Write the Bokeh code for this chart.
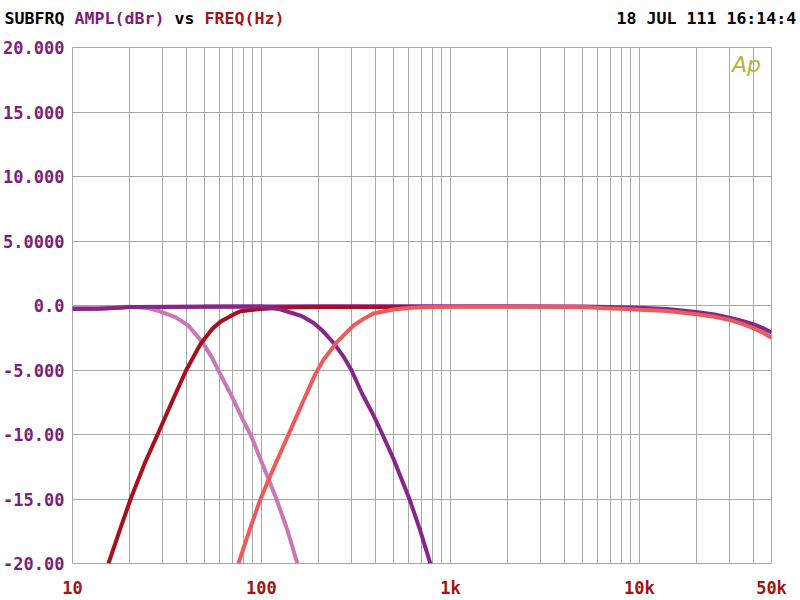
from bokeh.plotting import figure
from bokeh.models import FixedTicker, Label, LinearAxis
from bokeh.layouts import column
from bokeh.embed import file_html
from bokeh.resources import INLINE

# ---- data ----
ref_freq = [10, 15, 20, 50, 100, 200, 500, 1000, 2000, 5000, 7000, 10000, 14000,
            20000, 25000, 30000, 35000, 40000, 45000, 50000]
ref_db = [-0.25, -0.22, -0.12, -0.1, -0.08, -0.05, -0.05, -0.05, -0.05, -0.08, -0.12,
          -0.18, -0.28, -0.5, -0.7, -0.95, -1.2, -1.45, -1.75, -2.1]

lp1_freq = [10, 15, 20, 25, 29, 35, 41, 49, 55, 59, 70, 80, 87.5, 100, 110, 120,
            137, 155]
lp1_db = [-0.2, -0.15, -0.1, -0.2, -0.45, -0.9, -1.55, -2.9, -4.1, -5.0, -7.1, -8.9,
          -10.0, -12.1, -13.6, -15.0, -17.4, -20.0]

hp1_freq = [15.5, 18, 20.3, 24, 28.2, 34, 40, 47.5, 55, 60.7, 70, 77.4, 95, 120, 150,
            200, 300, 500, 700]
hp1_db = [-20.0, -17.2, -15.0, -12.3, -10.0, -7.3, -5.0, -3.0, -1.8, -1.25, -0.75,
          -0.45, -0.3, -0.2, -0.14, -0.12, -0.12, -0.12, -0.12]

lp2_freq = [10, 14, 20, 50, 100, 125, 148, 165, 189, 212, 242, 270, 299, 340, 391,
            437, 500, 607, 690, 783]
lp2_db = [-0.28, -0.25, -0.12, -0.08, -0.08, -0.3, -0.62, -0.85, -1.35, -2.0, -2.94,
          -3.9, -5.0, -6.8, -8.5, -10.0, -11.9, -15.0, -17.4, -20.0]

hp2_freq = [75.5, 87, 98.8, 116, 139, 163, 193, 213, 252, 307, 350, 391, 499, 600,
            700, 1000, 2000, 5000, 6500, 8000, 10000, 14000, 20000, 25000, 30000,
            35000, 40000, 45000, 50000]
hp2_db = [-20.0, -17.3, -15.0, -12.6, -10.0, -7.7, -5.3, -4.2, -2.8, -1.55, -1.0,
          -0.62, -0.31, -0.2, -0.14, -0.1, -0.1, -0.12, -0.22, -0.26, -0.32, -0.42,
          -0.68, -0.88, -1.12, -1.42, -1.75, -2.1, -2.5]

y_ticks = [-20, -15, -10, -5, 0, 5, 10, 15, 20]
y_labels = ["-20.00", "-15.00", "-10.00", "-5.000", "0.0", "5.0000", "10.000",
            "15.000", "20.000"]
x_ticks = [10, 100, 1000, 10000, 50000]
x_labels = ["10", "100", "1k", "10k", "50k"]
x_grid = [m * d for d in (10, 100, 1000) for m in range(1, 10)] + \
         [10000, 20000, 30000, 40000, 50000]

title_prefix = "SUBFRQ"
title_y = "AMPL(dBr)"
title_vs = "vs"
title_x = "FREQ(Hz)"
stamp = "18 JUL 111 16:14:4"

PURPLE = "#86268a"
PINK = "#c878b6"
DRED = "#a8101e"
SALMON = "#ee5a5a"
LBL_PURPLE = "#7a1f7c"
LBL_RED = "#a01414"
MONO = "DejaVu Sans Mono"
HEAD_FS = "16.6px"

FRAME_L, FRAME_R = 72, 771          # frame edges in page pixels
HEAD_H = 30
TEXT_CY = 18                        # header text centre (page y)


def style_axis(ax, color, size, standoff):
    ax.axis_line_color = None
    ax.major_tick_line_color = None
    ax.minor_tick_line_color = None
    ax.major_tick_out = 0
    ax.major_tick_in = 0
    ax.minor_tick_out = 0
    ax.minor_tick_in = 0
    ax.major_label_text_font = MONO
    ax.major_label_text_font_style = "bold"
    ax.major_label_text_font_size = size
    ax.major_label_text_color = color
    ax.major_label_standoff = standoff


# ---- header strip (frame aligned with the chart frame) ----
head = figure(width=800, height=HEAD_H, x_range=(0, 1), y_range=(0, HEAD_H),
              output_backend="svg", toolbar_location=None,
              min_border_left=FRAME_L, min_border_right=800 - FRAME_R,
              min_border_top=0, min_border_bottom=0,
              x_axis_location=None, y_axis_location=None,
              background_fill_color="white", border_fill_color="white")
head.outline_line_color = None
head.grid.visible = False

hy = HEAD_H - TEXT_CY
# left side text: "SUBFRQ" (ends 8px left of the frame)
ax_l = LinearAxis(ticker=FixedTicker(ticks=[hy]),
                  major_label_overrides={hy: title_prefix})
style_axis(ax_l, "black", HEAD_FS, 8)
head.add_layout(ax_l, "left")
# right side text: time stamp, starting at x=616
ax_r = LinearAxis(ticker=FixedTicker(ticks=[hy]),
                  major_label_overrides={hy: stamp})
style_axis(ax_r, "black", HEAD_FS, 616 - FRAME_R)
head.add_layout(ax_r, "right")

for txt, cx, col in ((title_y, 74, LBL_PURPLE), (title_vs, 174, "black"),
                     (title_x, 204, LBL_RED)):
    head.add_layout(Label(x=cx - FRAME_L, y=hy, x_units="screen", y_units="screen",
                          text=txt, text_color=col, text_font=MONO,
                          text_font_style="bold", text_font_size=HEAD_FS,
                          text_align="left", text_baseline="middle"))

# ---- main chart ----
p = figure(width=800, height=600 - HEAD_H, x_axis_type="log", x_range=(10, 50000),
           y_range=(-20, 20), output_backend="svg", toolbar_location=None,
           min_border_left=FRAME_L, min_border_right=800 - FRAME_R,
           min_border_top=47 - HEAD_H, min_border_bottom=36,
           background_fill_color="white", border_fill_color="white")

p.outline_line_color = "#a8a8a8"
p.outline_line_width = 1

p.yaxis.ticker = FixedTicker(ticks=y_ticks)
p.yaxis.major_label_overrides = {t: l for t, l in zip(y_ticks, y_labels)}
p.xaxis.ticker = FixedTicker(ticks=x_ticks)
p.xaxis.major_label_overrides = {t: l for t, l in zip(x_ticks, x_labels)}
style_axis(p.yaxis[0], LBL_PURPLE, "17px", 8)
style_axis(p.xaxis[0], LBL_RED, "17px", 14)

p.xgrid.ticker = FixedTicker(ticks=x_grid)
p.ygrid.ticker = FixedTicker(ticks=y_ticks)
for g in (p.xgrid[0], p.ygrid[0]):
    g.grid_line_color = "#a8a8a8"
    g.grid_line_width = 1
    g.grid_line_alpha = 1.0

lw = 4
p.line(ref_freq, ref_db, line_color=PURPLE, line_width=lw)
p.line(lp1_freq, lp1_db, line_color=PINK, line_width=lw)
p.line(hp1_freq, hp1_db, line_color=DRED, line_width=lw)
p.line(lp2_freq, lp2_db, line_color=PURPLE, line_width=lw)
p.line(hp2_freq, hp2_db, line_color=SALMON, line_width=lw)

# "Ap" mark inside the frame (frame bottom = 564 - HEAD_H)
p.add_layout(Label(x=746 - FRAME_L, y=(564 - HEAD_H) - (65 - HEAD_H),
                   x_units="screen", y_units="screen", text="Ap",
                   text_color="#b4b43a", text_font="DejaVu Sans",
                   text_font_style="italic", text_font_size="22px",
                   text_align="center", text_baseline="middle"))

layout = column(head, p, spacing=0)
open("out.html", "w").write(file_html(layout, INLINE))
